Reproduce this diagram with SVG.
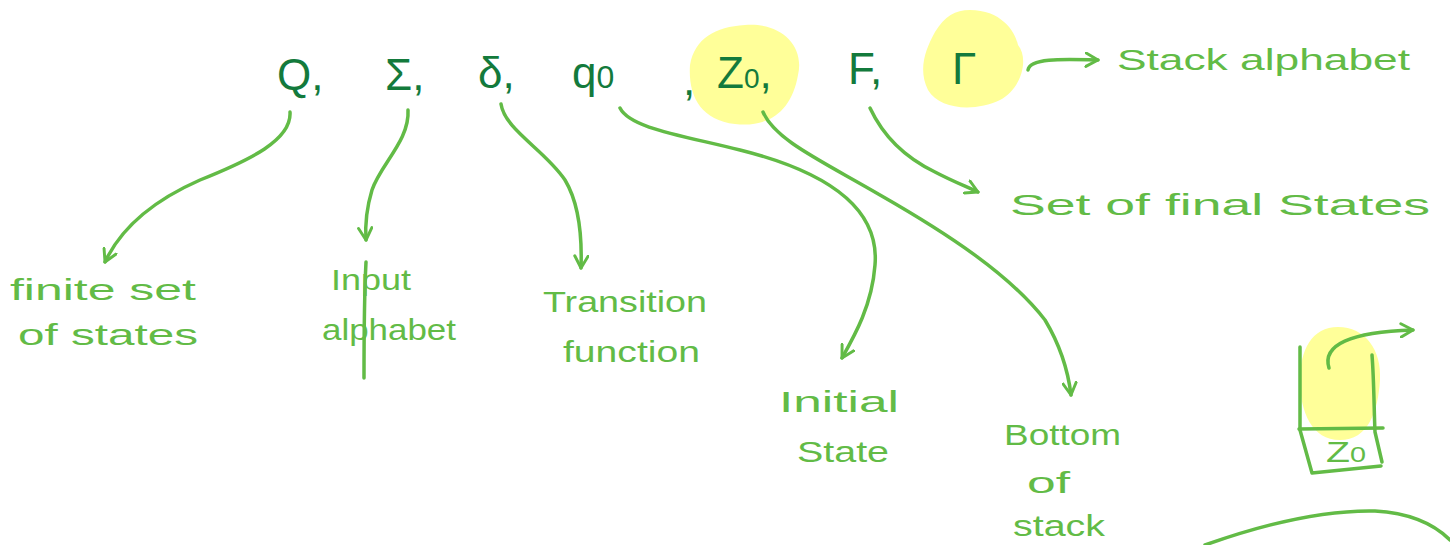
<svg xmlns="http://www.w3.org/2000/svg" width="1450" height="545" viewBox="0 0 1450 545">
<defs>
<marker id="ah" viewBox="0 0 12 12" refX="10" refY="6" markerWidth="16" markerHeight="16" markerUnits="userSpaceOnUse" orient="auto">
<path d="M1,1 L10,6 L1,11" fill="none" stroke="#62BB46" stroke-width="2.2" stroke-linecap="round" stroke-linejoin="round"/>
</marker>
<style>
.sym{font-family:"Liberation Sans",Arial,sans-serif;font-size:44px;fill:#137A3C;}
.lbl{font-family:"Liberation Sans",Arial,sans-serif;font-size:30px;fill:#62BB46;}
.hl{fill:#FFFF99;}
.con{fill:none;stroke:#62BB46;stroke-width:3.5;stroke-linecap:round;marker-end:url(#ah);}
.ln{fill:none;stroke:#62BB46;stroke-width:3.5;stroke-linecap:round;stroke-linejoin:round;}
</style>
</defs>
<rect width="1450" height="545" fill="#ffffff"/>

<g id="highlights">
<path class="hl" d="M745,25 C780,22 805,45 798,75 C792,110 770,128 735,124 C700,120 688,95 690,65 C695,38 715,27 745,25 Z"/>
<path class="hl" d="M970,10 C1000,10 1015,30 1018,45 C1030,60 1020,90 1000,100 C975,112 940,110 928,90 C918,70 925,50 935,32 C945,16 955,10 970,10 Z"/>
<path class="hl" d="M1338,327 C1365,327 1382,350 1380,380 C1378,412 1368,440 1340,440 C1312,440 1300,412 1300,380 C1300,350 1312,327 1338,327 Z"/>
</g>

<g id="tuple">
<text class="sym" x="277" y="90">Q,</text>
<text class="sym" x="385" y="90">Σ,</text>
<text class="sym" x="478" y="88">δ,</text>
<text class="sym" x="572" y="88">q<tspan font-size="32">0</tspan></text>
<text class="sym" x="683" y="95">,</text>
<text class="sym" x="717" y="88">Z<tspan font-size="28">0</tspan>,</text>
<text class="sym" x="848" y="84">F,</text>
<text class="sym" x="952" y="84">Γ</text>
</g>

<g id="connectors">
<path class="con" d="M290,112 C292,140 250,160 200,180 C150,202 120,230 105,262"/>
<path class="con" d="M408,110 C410,140 380,165 372,190 C366,210 365,225 366,240"/>
<path class="ln" d="M366,262 C364,300 364,340 364,378"/>
<path class="con" d="M501,104 C505,130 545,150 565,180 C580,205 582,240 581,268"/>
<path class="con" d="M620,108 C630,128 680,135 740,150 C820,170 880,205 875,265 C872,305 855,335 842,358"/>
<path class="con" d="M763,112 C775,140 820,160 880,195 C950,235 1010,275 1045,320 C1060,345 1068,370 1071,395"/>
<path class="con" d="M870,108 C885,140 910,160 935,172 C950,180 965,186 978,192"/>
<path class="con" d="M1028,70 C1030,58 1060,59 1098,60"/>
</g>

<g id="label-Q">
<text class="lbl" x="10" y="300" textLength="186" lengthAdjust="spacingAndGlyphs">finite set</text>
<text class="lbl" x="18" y="345" textLength="180" lengthAdjust="spacingAndGlyphs">of states</text>
</g>
<g id="label-sigma">
<text class="lbl" x="331" y="290" textLength="80" lengthAdjust="spacingAndGlyphs">Input</text>
<text class="lbl" x="322" y="340" textLength="134" lengthAdjust="spacingAndGlyphs">alphabet</text>
</g>
<g id="label-delta">
<text class="lbl" x="543" y="312" textLength="164" lengthAdjust="spacingAndGlyphs">Transition</text>
<text class="lbl" x="563" y="362" textLength="137" lengthAdjust="spacingAndGlyphs">function</text>
</g>
<g id="label-q0">
<text class="lbl" x="779" y="412" textLength="120" lengthAdjust="spacingAndGlyphs">Initial</text>
<text class="lbl" x="797" y="462" textLength="92" lengthAdjust="spacingAndGlyphs">State</text>
</g>
<g id="label-Z0">
<text class="lbl" x="1004" y="445" textLength="117" lengthAdjust="spacingAndGlyphs">Bottom</text>
<text class="lbl" x="1027" y="493" textLength="43" lengthAdjust="spacingAndGlyphs">of</text>
<text class="lbl" x="1013" y="536" font-size="28" textLength="92" lengthAdjust="spacingAndGlyphs">stack</text>
</g>
<g id="label-F">
<text class="lbl" x="1010" y="215" textLength="420" lengthAdjust="spacingAndGlyphs">Set of final States</text>
</g>
<g id="label-gamma">
<text class="lbl" x="1117" y="70" textLength="293" lengthAdjust="spacingAndGlyphs">Stack alphabet</text>
</g>

<g id="stack">
<path class="ln" d="M1300,347 L1300,430 L1312,473 L1381,466"/>
<path class="ln" d="M1372,355 C1374,380 1374,410 1375,432 L1382,462"/>
<path class="ln" d="M1299,429 L1383,428"/>
<text class="lbl" x="1326" y="462" textLength="40" lengthAdjust="spacingAndGlyphs">Z<tspan font-size="22">0</tspan></text>
<path class="con" d="M1329,368 C1322,345 1350,332 1413,330"/>
</g>

<g id="arc">
<path class="ln" d="M1205,545 C1270,522 1330,510 1375,511 C1410,513 1435,525 1450,540"/>
</g>
</svg>
